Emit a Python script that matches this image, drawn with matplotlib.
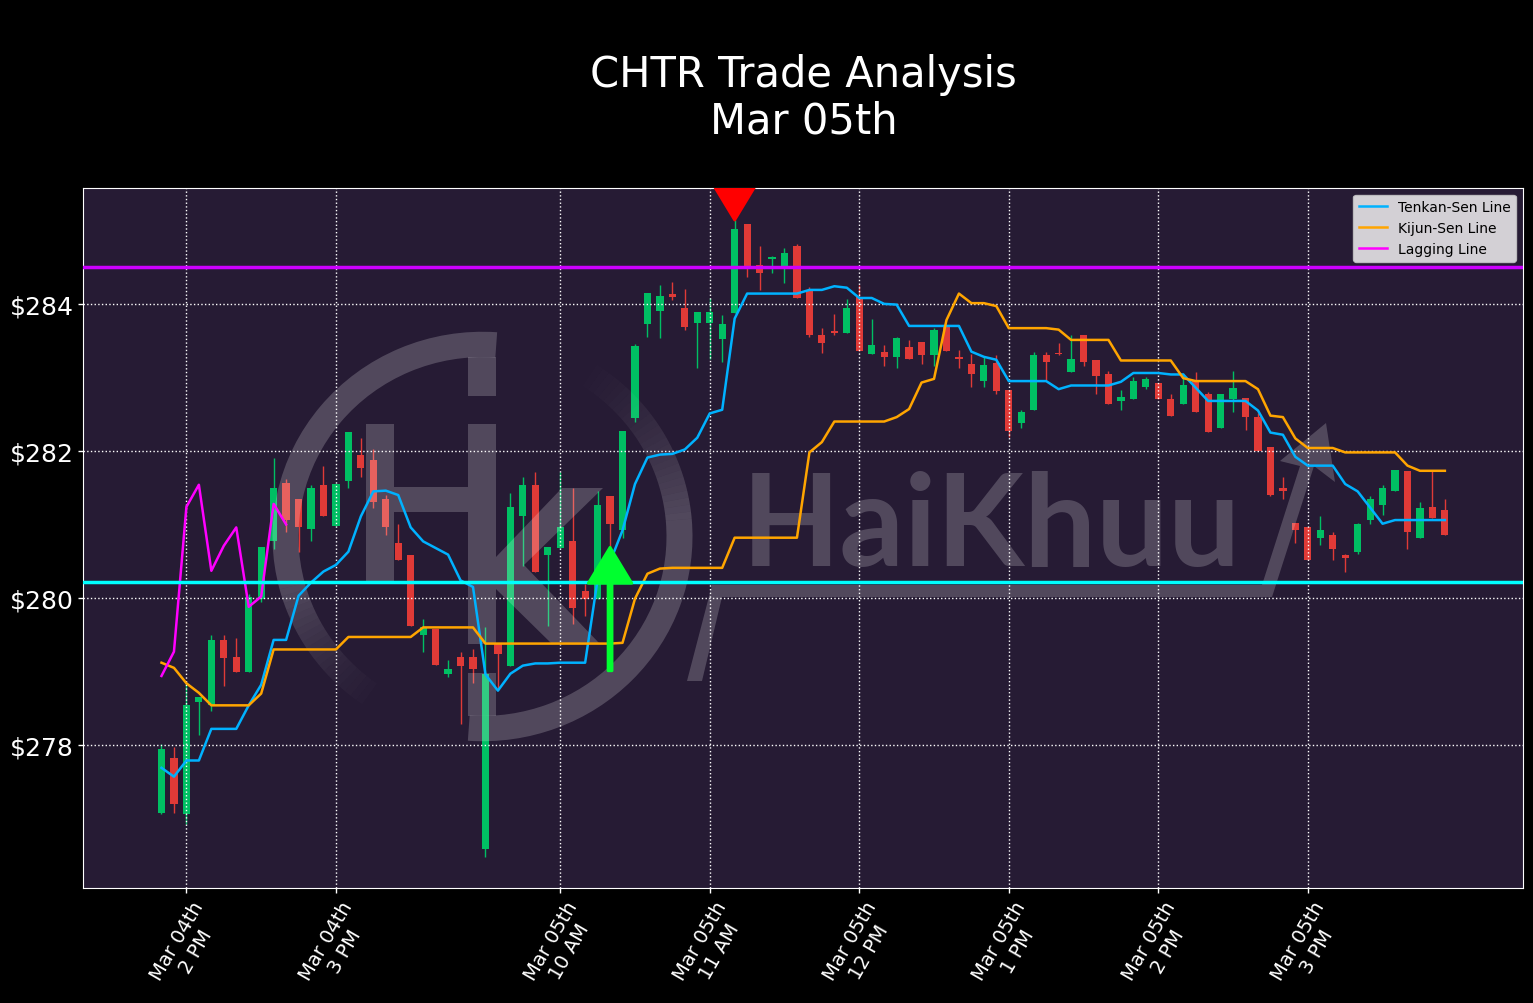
# -*- coding: utf-8 -*-
"""CHTR trade analysis, candles with tenkan / kijun / lagging lines"""

import matplotlib
matplotlib.use("Agg")
import matplotlib.pyplot as plt
from matplotlib.patches import FancyArrow, Polygon, Rectangle, Wedge
from matplotlib.transforms import Affine2D

# candles, one value per bar
opens = [
    277.08, 277.83, 277.06, 278.58, 278.54, 279.43, 279.20, 278.99, 279.99, 280.77,
    281.57, 281.35, 280.94, 281.54, 280.98, 281.59, 281.95, 281.88, 281.34, 280.75,
    280.59, 279.49, 279.58, 278.97, 279.20, 279.20, 276.59, 279.37, 279.07, 281.11,
    281.54, 280.59, 280.68, 280.77, 280.10, 279.99, 281.39, 280.93, 282.45, 283.73,
    283.90, 284.14, 283.95, 283.74, 283.74, 283.52, 283.88, 285.09, 284.53, 284.61,
    284.50, 284.79, 284.19, 283.58, 283.63, 283.61, 284.10, 283.32, 283.35, 283.28,
    283.42, 283.48, 283.31, 283.69, 283.28, 283.18, 282.95, 283.20, 282.83, 282.38,
    282.55, 283.31, 283.33, 283.08, 283.57, 283.23, 283.05, 282.68, 282.70, 282.87,
    282.93, 282.71, 282.64, 282.97, 282.78, 282.31, 282.71, 282.72, 282.46, 282.06,
    281.50, 281.02, 280.96, 280.81, 280.86, 280.59, 280.63, 281.06, 281.27, 281.45,
    281.73, 280.81, 281.24, 281.20,
]
highs = [
    278.02, 277.98, 278.85, 278.66, 279.50, 279.50, 279.46, 280.06, 280.70, 281.91,
    281.62, 281.35, 281.53, 281.80, 281.55, 282.26, 282.18, 282.03, 281.40, 281.00,
    280.59, 279.71, 279.58, 279.15, 279.27, 279.31, 279.61, 279.37, 281.43, 281.65,
    281.72, 280.70, 281.72, 281.50, 280.19, 281.46, 281.39, 282.27, 283.46, 284.15,
    284.26, 284.30, 284.20, 283.89, 284.08, 283.85, 285.14, 285.09, 284.79, 284.65,
    284.76, 284.82, 284.23, 283.67, 283.86, 284.07, 284.26, 283.80, 283.44, 283.55,
    283.51, 283.48, 283.67, 283.69, 283.37, 283.32, 283.28, 283.31, 282.83, 282.55,
    283.35, 283.35, 283.47, 283.57, 283.57, 283.23, 283.09, 282.83, 283.01, 283.01,
    282.93, 282.78, 283.06, 283.08, 282.80, 282.78, 283.09, 282.72, 282.52, 282.06,
    281.65, 281.02, 280.96, 281.11, 280.90, 280.60, 281.02, 281.39, 281.54, 281.74,
    281.73, 281.31, 281.73, 281.35,
]
lows = [
    277.06, 277.08, 276.93, 278.14, 278.46, 278.80, 278.99, 278.99, 279.94, 280.67,
    280.90, 280.63, 280.78, 281.11, 280.98, 281.49, 281.64, 281.23, 280.86, 280.52,
    279.62, 279.27, 279.09, 278.92, 278.28, 278.84, 276.48, 278.75, 279.07, 280.44,
    280.36, 279.62, 280.68, 279.64, 279.76, 279.99, 280.70, 280.82, 282.40, 283.55,
    283.54, 284.05, 283.65, 283.13, 283.25, 283.21, 283.88, 284.37, 284.19, 284.42,
    284.29, 284.08, 283.55, 283.33, 283.57, 283.61, 283.36, 283.32, 283.16, 283.13,
    283.25, 283.18, 283.16, 283.36, 283.13, 282.87, 282.87, 282.78, 282.19, 282.31,
    282.55, 282.97, 283.31, 283.08, 283.16, 282.78, 282.64, 282.55, 282.70, 282.84,
    282.71, 282.48, 282.64, 282.53, 282.26, 282.31, 282.53, 282.29, 282.00, 281.39,
    281.34, 280.75, 280.51, 280.72, 280.51, 280.36, 280.60, 281.00, 281.13, 281.45,
    280.66, 280.81, 281.09, 280.85,
]
closes = [
    277.94, 277.20, 278.55, 278.66, 279.43, 279.19, 278.99, 280.02, 280.70, 281.50,
    281.06, 280.96, 281.50, 281.11, 281.55, 282.26, 281.77, 281.31, 280.96, 280.52,
    279.62, 279.61, 279.09, 279.04, 279.07, 279.03, 278.96, 279.24, 281.24, 281.54,
    280.36, 280.70, 280.96, 279.86, 279.99, 281.27, 281.00, 282.27, 283.43, 284.15,
    284.11, 284.10, 283.69, 283.89, 283.89, 283.73, 285.02, 284.49, 284.42, 284.64,
    284.69, 284.08, 283.57, 283.47, 283.61, 283.95, 283.36, 283.44, 283.28, 283.54,
    283.25, 283.31, 283.65, 283.36, 283.25, 283.05, 283.17, 282.82, 282.27, 282.53,
    283.31, 283.21, 283.32, 283.25, 283.21, 283.02, 282.64, 282.74, 282.95, 282.98,
    282.71, 282.48, 282.90, 282.53, 282.26, 282.78, 282.86, 282.46, 282.00, 281.40,
    281.46, 280.93, 280.51, 280.93, 280.67, 280.55, 281.00, 281.35, 281.50, 281.74,
    280.90, 281.23, 281.09, 280.85,
]

tenkan = [
    277.69, 277.57, 277.79, 277.79, 278.22, 278.22, 278.22, 278.54, 278.82, 279.43,
    279.43, 280.03, 280.21, 280.36, 280.45, 280.63, 281.11, 281.45, 281.46, 281.40,
    280.96, 280.77, 280.68, 280.59, 280.24, 280.15, 278.96, 278.74, 278.97, 279.08,
    279.11, 279.11, 279.12, 279.12, 279.12, 280.25, 280.49, 280.92, 281.55, 281.91,
    281.95, 281.96, 282.02, 282.18, 282.51, 282.56, 283.80, 284.14, 284.14, 284.14,
    284.14, 284.14, 284.19, 284.19, 284.24, 284.22, 284.08, 284.08, 284.00, 283.99,
    283.70, 283.70, 283.70, 283.70, 283.70, 283.35, 283.28, 283.24, 282.95, 282.95,
    282.95, 282.95, 282.84, 282.89, 282.89, 282.89, 282.89, 282.94, 283.06, 283.06,
    283.06, 283.04, 283.04, 282.86, 282.68, 282.68, 282.68, 282.68, 282.55, 282.25,
    282.22, 281.92, 281.80, 281.80, 281.80, 281.55, 281.45, 281.23, 281.01, 281.06,
    281.06, 281.06, 281.06, 281.06,
]
kijun = [
    279.12, 279.05, 278.84, 278.71, 278.54, 278.54, 278.54, 278.54, 278.70, 279.30,
    279.30, 279.30, 279.30, 279.30, 279.30, 279.47, 279.47, 279.47, 279.47, 279.47,
    279.47, 279.60, 279.60, 279.60, 279.60, 279.60, 279.38, 279.38, 279.38, 279.38,
    279.38, 279.38, 279.38, 279.38, 279.38, 279.38, 279.38, 279.39, 279.99, 280.33,
    280.40, 280.41, 280.41, 280.41, 280.41, 280.41, 280.82, 280.82, 280.82, 280.82,
    280.82, 280.82, 281.98, 282.12, 282.40, 282.40, 282.40, 282.40, 282.40, 282.46,
    282.57, 282.93, 282.98, 283.78, 284.14, 284.01, 284.01, 283.97, 283.67, 283.67,
    283.67, 283.67, 283.65, 283.51, 283.51, 283.51, 283.51, 283.23, 283.23, 283.23,
    283.23, 283.23, 282.99, 282.95, 282.95, 282.95, 282.95, 282.95, 282.84, 282.48,
    282.46, 282.17, 282.04, 282.04, 282.04, 281.98, 281.98, 281.98, 281.98, 281.98,
    281.80, 281.73, 281.73, 281.73,
]
lagging = [278.94, 279.27, 281.24, 281.54, 280.37, 280.71, 280.96, 279.88, 280.02, 281.28, 281.00]

tick_bars = [2, 14, 32, 44, 56, 68, 80, 92]
tick_labels = [
    "Mar 04th\n2 PM", "Mar 04th\n3 PM", "Mar 05th\n10 AM", "Mar 05th\n11 AM",
    "Mar 05th\n12 PM", "Mar 05th\n1 PM", "Mar 05th\n2 PM", "Mar 05th\n3 PM",
]
price_ticks = [278, 280, 282, 284]

resistance = 284.50
support = 280.22
buy_bar, buy_tail, buy_tip = 36, 279.01, 280.69
sell_bar, sell_tail, sell_tip = 46, 286.85, 285.14

UP = "#00bf63"
DOWN = "#e03a37"
BG = "#261b34"


def px_xy(x, y):
    # watermark is placed in image pixels, y counted from the top
    return (x, 1004 - y)


plt.style.use("dark_background")
fig = plt.figure(figsize=(15.33, 10.04), dpi=100, facecolor="black")
ax = fig.add_axes([83 / 1533, 1 - 888.7 / 1004, 1440 / 1533, 700 / 1004], facecolor=BG)

# candles
bars = list(range(len(opens)))
for i in bars:
    color = UP if closes[i] >= opens[i] else DOWN
    ax.vlines(i, lows[i], highs[i], color=color, lw=1, zorder=1.4)
    ax.bar(i, abs(closes[i] - opens[i]), bottom=min(opens[i], closes[i]), width=0.58,
           color=color, linewidth=0, zorder=1.5)

# watermark
screen = Affine2D()
wm = dict(facecolor="white", edgecolor="none", linewidth=0, alpha=0.2, zorder=2, transform=screen)
center = px_xy(482.5, 537.5)
# the ring is a bit flatter than a circle
ring_tf = Affine2D().translate(-center[0], -center[1]).scale(1, 0.975).translate(*center)


def ring(a1, a2, alpha=0.2):
    ax.add_patch(Wedge(center, 210, a1, a2, width=26, facecolor="white", edgecolor="none",
                       linewidth=0, alpha=alpha, zorder=2, transform=ring_tf))


ring(86, 195)
ring(266, 365)
for step in range(22):
    ring(195 + step * 2, 197 + step * 2, 0.2 * (1 - step / 22) ** 1.5)
for step in range(28):
    ring(5 + step * 2, 7 + step * 2, 0.2 * (1 - step / 28) ** 1.5)

for x0, y0, x1, y1 in [
    (468, 358, 496, 397),   # top of the ring bar
    (366, 425, 394, 582),   # H left
    (468, 425, 496, 645),   # H right
    (394, 488, 468, 513),   # H bar
    (468, 674, 496, 717),   # bottom of the ring bar
]:
    ax.add_patch(Rectangle(px_xy(x0, y1), x1 - x0, y1 - y0, **wm))

k_shape = [(496, 558), (562, 489), (603, 489), (524, 566), (600, 645), (552, 645), (496, 590)]
ax.add_patch(Polygon([px_xy(*p) for p in k_shape], **wm))
swoosh = [(687, 682), (712, 586), (1262, 586), (1300, 467), (1280, 462), (1326, 424),
          (1335, 483), (1314, 467), (1272, 598), (722, 598), (702, 682)]
ax.add_patch(Polygon([px_xy(*p) for p in swoosh], **wm))
ax.text(742, 1004 - 566, "HaiKhuu", transform=screen, fontsize=92, family="Lato",
        weight="bold", color="white", alpha=0.2, va="baseline", ha="left", zorder=2,
        clip_on=True)

# lines
ax.plot(bars, tenkan, color="#00b2ff", lw=1.8, label="Tenkan-Sen Line", zorder=3)
ax.plot(bars, kijun, color="#ffa500", lw=1.8, label="Kijun-Sen Line", zorder=3)
ax.plot(bars[:len(lagging)], lagging, color="#ff00ff", lw=1.8, label="Lagging Line", zorder=3)
ax.axhline(resistance, color="#cc00ff", lw=2.5, zorder=3.5)
ax.axhline(support, color="#00ffff", lw=2.5, zorder=3.5)

# entry and exit arrows
for bar, tail, tip, col in [(buy_bar, buy_tail, buy_tip, "#00ff2f"),
                            (sell_bar, sell_tail, sell_tip, "#ff0000")]:
    ax.add_patch(FancyArrow(bar, tail, 0, tip - tail, width=0.32, head_width=3.5, head_length=0.49,
                            length_includes_head=True, facecolor=col, edgecolor=col, lw=2,
                            joinstyle="round", capstyle="round", zorder=4))

ax.set_xlim(-6.3, 109.27)
ax.set_ylim(276.06, 285.58)
ax.set_xticks(tick_bars)
ax.set_xticklabels(tick_labels, rotation=60, fontsize=14, color="white")
ax.set_yticks(price_ticks)
ax.set_yticklabels(["$%d" % p for p in price_ticks], fontsize=18, color="white")
ax.tick_params(axis="y", colors="white", length=3.5, width=1, pad=3)
ax.tick_params(axis="x", colors="white", length=3.5, width=1, pad=3.5)
ax.grid(True, color="white", linestyle=":", linewidth=1, zorder=2.5)
ax.set_axisbelow(False)
for sp in ax.spines.values():
    sp.set_color("white")

leg = ax.legend(loc="upper right", fontsize=10, facecolor="white", framealpha=0.8,
                edgecolor="#cccccc", labelcolor="black")
leg.set_zorder(6)

fig.text(803 / 1533, 1 - 75.5 / 1004, "CHTR Trade Analysis", color="white", fontsize=30,
         ha="center", va="center")
fig.text(804 / 1533, 1 - 122 / 1004, "Mar 05th", color="white", fontsize=30,
         ha="center", va="center")

fig.savefig("out.png", dpi=100, facecolor="black")
